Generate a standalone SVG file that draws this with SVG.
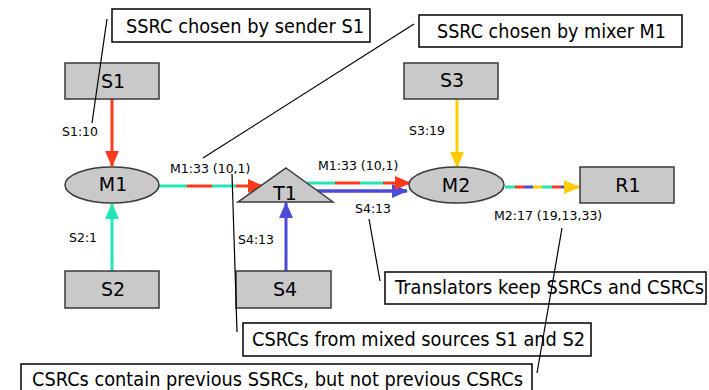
<svg xmlns="http://www.w3.org/2000/svg" width="709" height="390" viewBox="0 0 709 390">
  <style>
    .node { fill: #c9c9c9; stroke: #3a3a3a; stroke-width: 1.5; }
    .note { fill: #ffffff; stroke: #000000; stroke-width: 1.5; }
    .big { font-family: "DejaVu Sans", Verdana, sans-serif; font-size: 19px; fill: #000; }
    .name { font-family: "DejaVu Sans", Verdana, sans-serif; font-size: 19px; fill: #000; text-anchor: middle; }
    .lbl { font-family: "DejaVu Sans", Verdana, sans-serif; font-size: 12.5px; fill: #000; }
    .lead { stroke: #000; stroke-width: 1.2; fill: none; }
    .red { stroke: #ff3a1a; }
    .cyan { stroke: #22e6b4; }
    .blue { stroke: #4b4bd8; }
    .yel { stroke: #ffcc00; }
    .flow line { stroke-width: 3; fill: none; }
  </style>
  <defs>
    <marker id="hRed" markerUnits="userSpaceOnUse" markerWidth="16" markerHeight="14" refX="15" refY="7" orient="auto">
      <path d="M0,0 L16,7 L0,14 Z" fill="#ff3a1a"/>
    </marker>
    <marker id="hCyan" markerUnits="userSpaceOnUse" markerWidth="16" markerHeight="14" refX="15" refY="7" orient="auto">
      <path d="M0,0 L16,7 L0,14 Z" fill="#22e6b4"/>
    </marker>
    <marker id="hBlue" markerUnits="userSpaceOnUse" markerWidth="16" markerHeight="14" refX="15" refY="7" orient="auto">
      <path d="M0,0 L16,7 L0,14 Z" fill="#4b4bd8"/>
    </marker>
    <marker id="hYel" markerUnits="userSpaceOnUse" markerWidth="16" markerHeight="14" refX="15" refY="7" orient="auto">
      <path d="M0,0 L16,7 L0,14 Z" fill="#ffcc00"/>
    </marker>
  </defs>

  <!-- media flows -->
  <g id="connectors" class="flow">
    <!-- S1 -> M1 -->
    <line class="red" x1="112" y1="99" x2="112" y2="166" marker-end="url(#hRed)"/>
    <!-- S2 -> M1 -->
    <line class="cyan" x1="112" y1="271" x2="112" y2="204" marker-end="url(#hCyan)"/>
    <!-- S3 -> M2 -->
    <line class="yel" x1="457" y1="99" x2="457" y2="167" marker-end="url(#hYel)"/>
    <!-- S4 -> T1 -->
    <line class="blue" x1="286" y1="271" x2="286" y2="203" marker-end="url(#hBlue)"/>
    <!-- M1 -> T1 : mixed S1+S2 stream -->
    <line class="cyan" x1="159" y1="186" x2="187" y2="186"/>
    <line class="red" x1="187" y1="186" x2="212" y2="186"/>
    <line class="cyan" x1="212" y1="186" x2="236" y2="186"/>
    <line class="red" x1="236" y1="186" x2="263" y2="186" marker-end="url(#hRed)"/>
    <!-- T1 -> M2 : S4 stream -->
    <line class="blue" x1="317" y1="191" x2="407" y2="191" marker-end="url(#hBlue)" style="stroke-width:3.5"/>
    <!-- T1 -> M2 : forwarded M1 stream -->
    <line class="cyan" x1="307" y1="183" x2="335" y2="183"/>
    <line class="red" x1="335" y1="183" x2="360" y2="183"/>
    <line class="cyan" x1="360" y1="183" x2="383" y2="183"/>
    <line class="red" x1="383" y1="183" x2="410" y2="183" marker-end="url(#hRed)"/>
    <!-- M2 -> R1 : all sources mixed -->
    <line class="cyan" x1="505" y1="187" x2="515" y2="187"/>
    <line class="red" x1="515" y1="187" x2="524" y2="187"/>
    <line class="blue" x1="524" y1="187" x2="533" y2="187"/>
    <line class="yel" x1="533" y1="187" x2="542" y2="187"/>
    <line class="cyan" x1="542" y1="187" x2="552" y2="187"/>
    <line class="red" x1="552" y1="187" x2="561" y2="187"/>
    <line class="blue" x1="561" y1="187" x2="566" y2="187"/>
    <line class="yel" x1="566" y1="187" x2="579" y2="187" marker-end="url(#hYel)"/>
  </g>

  <!-- stream labels -->
  <g id="labels">
    <text class="lbl" x="62" y="136">S1:10</text>
    <text class="lbl" x="69" y="242">S2:1</text>
    <text class="lbl" x="409" y="135">S3:19</text>
    <text class="lbl" x="238" y="244">S4:13</text>
    <text class="lbl" x="170" y="173">M1:33 (10,1)</text>
    <text class="lbl" x="318" y="170">M1:33 (10,1)</text>
    <text class="lbl" x="355" y="213">S4:13</text>
    <text class="lbl" x="494" y="220">M2:17 (19,13,33)</text>
  </g>

  <!-- nodes -->
  <g id="S1">
    <rect class="node" x="65" y="63" width="94" height="36"/>
    <text class="name" x="113" y="88">S1</text>
  </g>
  <g id="S2">
    <rect class="node" x="65" y="271" width="94" height="37"/>
    <text class="name" x="113" y="296">S2</text>
  </g>
  <g id="S3">
    <rect class="node" x="404" y="63" width="94" height="36"/>
    <text class="name" x="452" y="87">S3</text>
  </g>
  <g id="S4">
    <rect class="node" x="236" y="271" width="95" height="37"/>
    <text class="name" x="285" y="296">S4</text>
  </g>
  <g id="M1">
    <ellipse class="node" cx="112" cy="185" rx="47" ry="18"/>
    <text class="name" x="113" y="191">M1</text>
  </g>
  <g id="M2">
    <ellipse class="node" cx="456.5" cy="185" rx="47.5" ry="18"/>
    <text class="name" x="456" y="192">M2</text>
  </g>
  <g id="T1">
    <polygon class="node" points="286,168 333,202 238,202"/>
    <text class="name" x="285" y="200">T1</text>
  </g>
  <g id="R1">
    <rect class="node" x="580" y="167" width="94" height="36"/>
    <text class="name" x="628" y="192">R1</text>
  </g>

  <!-- explanatory notes -->
  <g id="note-sender">
    <rect class="note" x="112" y="9" width="258" height="33"/>
    <text class="big" x="126" y="33" textLength="238" lengthAdjust="spacingAndGlyphs">SSRC chosen by sender S1</text>
  </g>
  <g id="note-mixer">
    <rect class="note" x="419" y="15" width="263" height="32"/>
    <text class="big" x="437" y="38" textLength="229" lengthAdjust="spacingAndGlyphs">SSRC chosen by mixer M1</text>
  </g>
  <g id="note-translators">
    <rect class="note" x="385" y="272" width="321" height="32"/>
    <text class="big" x="395" y="294" textLength="309" lengthAdjust="spacingAndGlyphs">Translators keep SSRCs and CSRCs</text>
  </g>
  <g id="note-csrc-mixed">
    <rect class="note" x="243" y="323" width="348" height="33"/>
    <text class="big" x="252" y="346" textLength="333" lengthAdjust="spacingAndGlyphs">CSRCs from mixed sources S1 and S2</text>
  </g>
  <g id="note-csrc-previous">
    <rect class="note" x="21" y="364" width="511" height="34"/>
    <text class="big" x="32" y="386" textLength="491" lengthAdjust="spacingAndGlyphs">CSRCs contain previous SSRCs, but not previous CSRCs</text>
  </g>

  <!-- callout leader lines, drawn over everything -->
  <g id="leaders">
    <line class="lead" x1="107" y1="19" x2="92" y2="123"/>
    <line class="lead" x1="414" y1="24" x2="203" y2="158"/>
    <line class="lead" x1="232" y1="174" x2="237" y2="332"/>
    <line class="lead" x1="369" y1="219" x2="380" y2="281"/>
    <line class="lead" x1="562" y1="228" x2="537" y2="373"/>
  </g>
</svg>
